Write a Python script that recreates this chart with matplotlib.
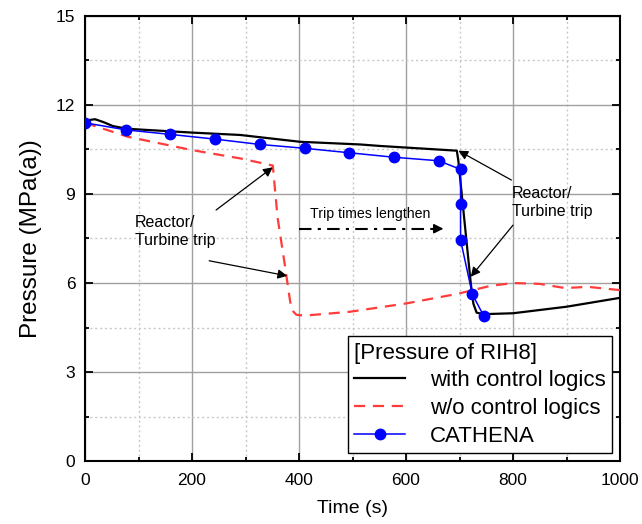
import matplotlib
matplotlib.use("Agg")
import matplotlib.pyplot as plt
from matplotlib.ticker import MultipleLocator

plt.rcParams['font.family'] = ['Liberation Sans', 'DejaVu Sans']

# ---- data ----
t_ctrl = [0, 10, 19, 35, 52, 78, 115, 200, 290, 402, 514, 551, 695, 698, 721, 726, 732, 745, 800, 900, 1000]
p_ctrl = [11.40, 11.50, 11.52, 11.42, 11.29, 11.20, 11.16, 11.07, 10.99, 10.76, 10.67, 10.62, 10.46, 10.10, 6.00, 5.30, 5.00, 4.95, 4.98, 5.20, 5.50]

t_noctrl = [0, 80, 200, 290, 351, 360, 374, 382, 386, 395, 410, 495, 600, 695, 757, 800, 850, 897, 940, 1000]
p_noctrl = [11.40, 10.93, 10.48, 10.20, 9.96, 8.20, 6.55, 5.55, 5.10, 4.93, 4.90, 5.03, 5.31, 5.63, 5.90, 6.00, 5.97, 5.83, 5.87, 5.76]

t_cath = [0, 77, 159, 243, 327, 411, 494, 577, 661, 702, 702, 702, 724, 745]
p_cath = [11.40, 11.16, 11.01, 10.85, 10.67, 10.54, 10.39, 10.24, 10.12, 9.83, 8.66, 7.45, 5.62, 4.90]

labels = ['with control logics', 'w/o control logics', 'CATHENA']
legend_title = '[Pressure of RIH8]'

fig = plt.figure(figsize=(6.42, 5.24), dpi=100)
ax = fig.add_axes([85/642, 1-461/524, (620-85)/642, (461-16)/524])

ax.plot(t_ctrl, p_ctrl, color='black', lw=1.6, label=labels[0], zorder=3)
ax.plot(t_noctrl, p_noctrl, color='#ff3c3c', lw=1.6, dashes=(5, 3.5), label=labels[1], zorder=3)
ax.plot(t_cath, p_cath, color='#0000ff', lw=1.1, marker='o', markersize=7.5, label=labels[2], zorder=4)

ax.set_xlim(0, 1000)
ax.set_ylim(0, 15)
ax.xaxis.set_major_locator(MultipleLocator(200))
ax.xaxis.set_minor_locator(MultipleLocator(100))
ax.yaxis.set_major_locator(MultipleLocator(3))
ax.yaxis.set_minor_locator(MultipleLocator(1.5))

ax.grid(which='major', color='#a0a0a0', lw=1.0, ls='-', zorder=0)
ax.grid(which='minor', color='#c8c8c8', lw=1.0, ls=(0, (1.5, 2)), zorder=0)
ax.set_axisbelow(True)

ax.tick_params(which='both', direction='in', top=True, right=True, labelsize=12.5, width=1.3)
ax.tick_params(which='major', length=6)
ax.tick_params(which='minor', length=3)
ax.tick_params(axis='x', which='major', pad=8.5)
ax.tick_params(axis='y', which='major', pad=7)
for s in ax.spines.values():
    s.set_linewidth(1.5)

ax.set_xlabel('Time (s)', fontsize=14, labelpad=9)
ax.set_ylabel('Pressure (MPa(a))', fontsize=17.5, labelpad=10)

# annotations
arrow_kw = dict(arrowstyle='-|>', color='black', lw=0.9, mutation_scale=14, shrinkA=0, shrinkB=0)
ax.text(93, 7.73, 'Reactor/\nTurbine trip', fontsize=11.5, ha='left', va='center', linespacing=1.25)
ax.annotate('', xy=(351, 9.9), xytext=(245, 8.46), arrowprops=arrow_kw)
ax.annotate('', xy=(378, 6.24), xytext=(232, 6.75), arrowprops=arrow_kw)

ax.text(798, 8.73, 'Reactor/\nTurbine trip', fontsize=11.5, ha='left', va='center', linespacing=1.25)
ax.annotate('', xy=(698, 10.46), xytext=(797, 9.47), arrowprops=arrow_kw)
ax.annotate('', xy=(721, 6.21), xytext=(800, 7.95), arrowprops=arrow_kw)

ax.text(420, 8.33, 'Trip times lengthen', fontsize=10.2, ha='left', va='center')
ax.plot([400, 655], [7.83, 7.83], color='black', lw=1.5, dashes=(6, 3, 1.5, 3), zorder=3)
ax.annotate('', xy=(670, 7.83), xytext=(652, 7.83),
            arrowprops=dict(arrowstyle='-|>', color='black', lw=1.2, mutation_scale=14, shrinkA=0, shrinkB=0))

leg = ax.legend(loc='lower right', bbox_to_anchor=(1, 0), borderaxespad=0.35,
                title=legend_title, title_fontsize=16, fontsize=16, alignment='left',
                handlelength=2.3, handletextpad=1.1, labelspacing=0.3, borderpad=0.3,
                fancybox=False, framealpha=1, edgecolor='black')
leg.get_frame().set_linewidth(1.0)

fig.savefig('out.png', dpi=100)
